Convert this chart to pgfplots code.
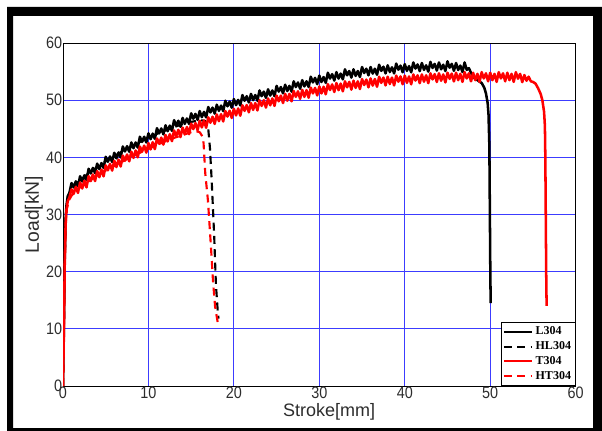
\documentclass[border=0pt]{standalone}
\usepackage{fontspec}
\setmainfont{Liberation Sans}
\newfontfamily\legfont{Liberation Serif}
\usepackage{graphicx}
\usepackage{pgfplots}
\pgfplotsset{compat=1.18}
\definecolor{cGrid}{RGB}{60,60,255}
\definecolor{cRed}{RGB}{255,0,0}
\definecolor{cInk}{RGB}{45,45,45}

\begin{document}
\begin{tikzpicture}
\useasboundingbox (0pt,0pt) rectangle (451.5pt,-323.25pt);
% thick outer frame, in reference pixels (y downwards)
\begin{scope}[x=0.75pt, y=-0.75pt]
  \clip (0,0) rectangle (602,431);
  \fill[black, even odd rule] (7,7) rectangle (620,450) (13,16) rectangle (593,428);
\end{scope}
\begin{axis}[
  at={(47.25pt,-289.5pt)}, anchor=south west,
  scale only axis, width=384.5pt, height=257.25pt,
  xmin=0, xmax=60, ymin=0, ymax=60,
  xtick={0,10,...,60}, ytick={0,10,...,60},
  grid=major, grid style={cGrid, line width=0.6pt},
  major tick length=0pt,
  axis line style={black, line width=0.7pt},
  /pgf/number format/assume math mode=true,
  tick label style={font=\fontsize{10.8}{12}\selectfont, color=cInk},
  xticklabel={\scalebox{1}[1.15]{\pgfmathprintnumber{\tick}}},
  yticklabel={\scalebox{1}[1.15]{\pgfmathprintnumber{\tick}}},
  xticklabel style={yshift=2.6pt},
  yticklabel style={xshift=2.8pt},
  xlabel={Stroke[mm]}, ylabel={Load[kN]},
  xlabel style={font=\fontsize{13.5}{15}\selectfont, color=cInk,
                at={(axis description cs:0.519,-0.075)}, anchor=center},
  ylabel style={font=\fontsize{14.5}{16}\selectfont, color=cInk,
                at={(axis description cs:-0.057,0.5)}, anchor=center},
  legend style={at={(1,0)}, anchor=south east, draw=black, line width=0.6pt,
                fill=white, inner sep=1.2pt, row sep=-0.3pt,
                font=\legfont\bfseries\fontsize{9}{10}\selectfont,
                legend cell align=left},
  legend image code/.code={\draw[#1, line width=1.5pt] (0pt,0pt) -- (21pt,0pt);},
  every axis plot/.append style={line join=round},
]
% L304
\addplot[black, line width=1.9pt] coordinates {
 (0,0) (0.1,10) (0.2,22) (0.3,29) (0.4,31.5) (0.55,33.2) (0.75,33.8)
 (1,35.5) (1.25,34.75) (1.5,35.8) (1.75,34.95)
 (2,36.7) (2.25,35.78) (2.5,36.85) (2.75,36.03)
 (3,38.0) (3.25,37.18) (3.5,38.15) (3.75,37.23)
 (4,38.9) (4.25,37.95) (4.5,39.0) (4.75,38.15)
 (5,40.1) (5.25,39.23) (5.5,40.15) (5.75,39.18)
 (6,40.8) (6.25,39.83) (6.5,40.85) (6.75,39.98)
 (7,41.9) (7.25,41.03) (7.5,41.95) (7.75,40.98)
 (8,42.6) (8.25,41.6) (8.5,42.6) (8.75,41.7)
 (9,43.6) (9.25,42.7) (9.5,43.6) (9.75,42.6)
 (10,44.2) (10.25,43.18) (10.5,44.15) (10.75,43.23)
 (11,45.1) (11.25,44.18) (11.5,45.05) (11.75,44.03)
 (12,45.6) (12.25,44.58) (12.5,45.55) (12.75,44.63)
 (13,46.5) (13.25,45.55) (13.5,46.4) (13.75,45.35)
 (14,46.9) (14.25,45.85) (14.5,46.8) (14.75,45.85)
 (15,47.7) (15.25,46.75) (15.5,47.6) (15.75,46.55)
 (16,48.1) (16.25,47.03) (16.5,47.95) (16.75,46.98)
 (17,48.8) (17.25,47.85) (17.5,48.7) (17.75,47.65)
 (18,49.2) (18.25,48.13) (18.5,49.05) (18.75,48.08)
 (19,49.9) (19.25,48.93) (19.5,49.75) (19.75,48.68)
 (20,50.2) (20.25,49.13) (20.5,50.05) (20.75,49.08)
 (21,50.9) (21.25,49.9) (21.5,50.7) (21.75,49.6)
 (22,51.1) (22.25,50.0) (22.5,50.9) (22.75,49.9)
 (23,51.7) (23.25,50.7) (23.5,51.5) (23.75,50.4)
 (24,51.9) (24.25,50.8) (24.5,51.7) (24.75,50.7)
 (25,52.5) (25.25,51.5) (25.5,52.3) (25.75,51.2)
 (26,52.7) (26.25,51.6) (26.5,52.5) (26.75,51.5)
 (27,53.3) (27.25,52.3) (27.5,53.1) (27.75,52.0)
 (28,53.5) (28.25,52.4) (28.5,53.3) (28.75,52.3)
 (29,54.1) (29.25,53.1) (29.5,53.9) (29.75,52.8)
 (30,54.3) (30.25,53.18) (30.5,54.05) (30.75,53.03)
 (31,54.8) (31.25,53.78) (31.5,54.55) (31.75,53.43)
 (32,54.9) (32.25,53.78) (32.5,54.65) (32.75,53.63)
 (33,55.4) (33.25,54.35) (33.5,55.1) (33.75,53.95)
 (34,55.4) (34.25,54.25) (34.5,55.1) (34.75,54.05)
 (35,55.8) (35.25,54.75) (35.5,55.5) (35.75,54.35)
 (36,55.8) (36.25,54.65) (36.5,55.5) (36.75,54.45)
 (37,56.2) (37.25,55.13) (37.5,55.85) (37.75,54.68)
 (38,56.1) (38.25,54.93) (38.5,55.75) (38.75,54.68)
 (39,56.4) (39.25,55.33) (39.5,56.05) (39.75,54.88)
 (40,56.3) (40.25,55.13) (40.5,55.95) (40.75,54.88)
 (41,56.6) (41.25,55.53) (41.5,56.25) (41.75,55.08)
 (42,56.5) (42.25,55.3) (42.5,56.1) (42.75,55.0)
 (43,56.7) (43.25,55.63) (43.5,56.35) (43.75,55.18)
 (44,56.6) (44.25,55.4) (44.5,56.2) (44.75,55.1)
 (45,56.8) (45.25,55.68) (45.5,56.35) (45.75,55.13)
 (46,56.5) (46.25,55.28) (46.5,56.05) (46.75,54.93)
 (47,56.6) (47.25,55.3) (47.5,55.6) (47.75,54.8)
 (48,54.0) (48.5,53.5) (49,53.0) (49.3,52.2) (49.5,51.2) (49.7,49.5)
 (49.8,47.5) (49.9,42) (49.95,32) (50.0,22) (50.05,14.5)
};
% HL304
\addplot[black, line width=1.6pt, dash pattern=on 6pt off 4pt] coordinates {
 (0,0) (0.1,10) (0.2,22) (0.3,29) (0.45,32) (0.7,33.6) (1,34.5) (2,36.0) (3,37.2)
 (4,38.3) (5,39.3) (6,40.2) (7,41.1) (8,41.9) (9,42.7) (10,43.4) (11,44.1) (12,44.7)
 (13,45.3) (14,45.8) (15,46.2) (16,46.5) (16.6,46.4) (16.9,45.8) (17.0,45.0) (17.2,41.6)
 (17.4,36) (17.6,29.4) (17.7,26) (17.8,21.7) (17.9,17.7) (18.1,13.3) (18.2,11.8)
};
% T304
\addplot[cRed, line width=1.9pt] coordinates {
 (0,0) (0.1,9) (0.2,21) (0.3,28) (0.4,30.8) (0.55,32.3) (0.75,33.0)
 (1,34.4) (1.25,33.63) (1.5,34.85) (1.75,33.78)
 (2,35.6) (2.25,34.55) (2.5,35.9) (2.75,34.75)
 (3,36.7) (3.25,35.85) (3.5,37.0) (3.75,35.85)
 (4,37.6) (4.25,36.53) (4.5,37.85) (4.75,36.68)
 (5,38.6) (5.25,37.73) (5.5,38.85) (5.75,37.68)
 (6,39.4) (6.25,38.3) (6.5,39.6) (6.75,38.4)
 (7,40.3) (7.25,39.4) (7.5,40.5) (7.75,39.3)
 (8,41.0) (8.25,39.9) (8.5,41.2) (8.75,40.0)
 (9,41.9) (9.25,40.98) (9.5,42.05) (9.75,40.83)
 (10,42.5) (10.25,41.38) (10.5,42.65) (10.75,41.43)
 (11,43.3) (11.25,42.38) (11.5,43.45) (11.75,42.23)
 (12,43.9) (12.25,42.78) (12.5,44.05) (12.75,42.83)
 (13,44.7) (13.25,43.75) (13.5,44.8) (13.75,43.55)
 (14,45.2) (14.25,44.05) (14.5,45.3) (14.75,44.05)
 (15,45.9) (15.25,44.95) (15.5,46.0) (15.75,44.75)
 (16,46.4) (16.25,45.23) (16.5,46.45) (16.75,45.18)
 (17,47.0) (17.25,46.05) (17.5,47.1) (17.75,45.85)
 (18,47.5) (18.25,46.33) (18.5,47.55) (18.75,46.28)
 (19,48.1) (19.25,47.13) (19.5,48.15) (19.75,46.88)
 (20,48.5) (20.25,47.33) (20.5,48.55) (20.75,47.28)
 (21,49.1) (21.25,48.13) (21.5,49.15) (21.75,47.88)
 (22,49.5) (22.25,48.3) (22.5,49.5) (22.75,48.2)
 (23,50.0) (23.25,49.0) (23.5,50.0) (23.75,48.7)
 (24,50.3) (24.25,49.1) (24.5,50.3) (24.75,49.0)
 (25,50.8) (25.25,49.8) (25.5,50.8) (25.75,49.5)
 (26,51.1) (26.25,49.9) (26.5,51.1) (26.75,49.8)
 (27,51.6) (27.25,50.58) (27.5,51.55) (27.75,50.23)
 (28,51.8) (28.25,50.58) (28.5,51.75) (28.75,50.43)
 (29,52.2) (29.25,51.18) (29.5,52.15) (29.75,50.83)
 (30,52.4) (30.25,51.18) (30.5,52.35) (30.75,51.03)
 (31,52.8) (31.25,51.78) (31.5,52.75) (31.75,51.43)
 (32,53.0) (32.25,51.75) (32.5,52.9) (32.75,51.55)
 (33,53.3) (33.25,52.25) (33.5,53.2) (33.75,51.85)
 (34,53.4) (34.25,52.15) (34.5,53.3) (34.75,51.95)
 (35,53.7) (35.25,52.65) (35.5,53.6) (35.75,52.25)
 (36,53.8) (36.25,52.55) (36.5,53.7) (36.75,52.35)
 (37,54.1) (37.25,53.03) (37.5,53.95) (37.75,52.58)
 (38,54.1) (38.25,52.83) (38.5,53.95) (38.75,52.58)
 (39,54.3) (39.25,53.23) (39.5,54.15) (39.75,52.78)
 (40,54.3) (40.25,53.03) (40.5,54.15) (40.75,52.78)
 (41,54.5) (41.25,53.43) (41.5,54.35) (41.75,52.98)
 (42,54.5) (42.25,53.23) (42.5,54.35) (42.75,52.98)
 (43,54.7) (43.25,53.63) (43.5,54.55) (43.75,53.18)
 (44,54.7) (44.25,53.4) (44.5,54.5) (44.75,53.1)
 (45,54.8) (45.25,53.73) (45.5,54.65) (45.75,53.28)
 (46,54.8) (46.25,53.5) (46.5,54.6) (46.75,53.2)
 (47,54.9) (47.25,53.8) (47.5,54.7) (47.75,53.3)
 (48,54.8) (48.25,53.5) (48.5,54.6) (48.75,53.2)
 (49,54.9) (49.25,53.8) (49.5,54.7) (49.75,53.3)
 (50,54.8) (50.25,53.5) (50.5,54.6) (50.75,53.2)
 (51,54.9) (51.25,53.8) (51.5,54.7) (51.75,53.3)
 (52,54.8) (52.25,53.5) (52.5,54.6) (52.75,53.2)
 (53,54.9) (53.25,53.75) (53.5,54.6) (53.75,53.15)
 (54,54.4) (54.25,53.4) (54.5,54.1) (54.75,53.3)
 (55,53.2) (55.3,52.9) (55.6,52.1) (55.9,51.1) (56.1,50.0) (56.3,48.0)
 (56.4,45.5) (56.45,40) (56.5,30) (56.55,20) (56.6,14)
};
% HT304
\addplot[cRed, line width=1.6pt, dash pattern=on 6pt off 4pt] coordinates {
 (0,0) (0.1,9) (0.2,21) (0.3,28) (0.45,31) (0.7,32.5) (1,33.3) (2,34.8) (3,35.8)
 (4,36.8) (5,37.7) (6,38.5) (7,39.3) (8,40.1) (9,40.8) (10,41.5) (11,42.2) (12,42.8)
 (13,43.4) (14,43.9) (15,44.4) (15.5,44.6) (16.0,44.4) (16.3,43.7) (16.45,42.5)
 (16.65,37.2) (16.96,32.5) (17.15,28.2) (17.35,23.5) (17.55,18.5) (17.8,13.9) (18.1,11.2)
};
\legend{L304, HL304, T304, HT304}
\end{axis}
\end{tikzpicture}
\end{document}
